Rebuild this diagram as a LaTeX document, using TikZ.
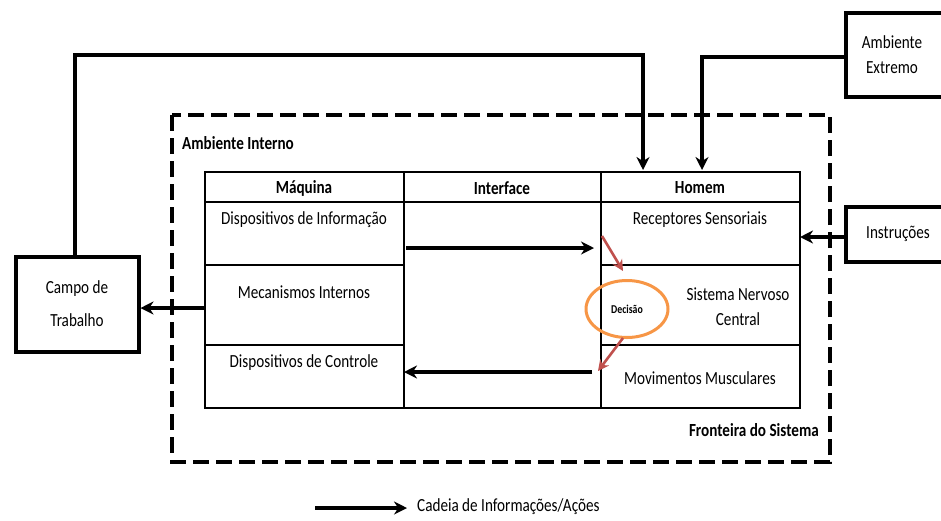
\documentclass[tikz,border=0pt]{standalone}
\usepackage{fontspec}
\setmainfont{Carlito}[FakeStretch=0.82]
\usetikzlibrary{arrows.meta,shapes.geometric}
\begin{document}
\begin{tikzpicture}[x=1pt,y=-1pt,
  txt/.style={font=\fontsize{18.5}{20}\selectfont, align=center, inner sep=0pt},
  btxt/.style={txt, font=\fontsize{18.5}{20}\selectfont\bfseries},
  flow/.style={line width=3.2pt, -{Stealth[length=13pt,width=13pt]}},
  thin/.style={line width=1.4pt},
  extbox/.style={draw, line width=4pt, fill=white},
  redarrow/.style={draw={rgb,255:red,192;green,80;blue,77}, line width=2.6pt, -{Stealth[length=11pt,width=11pt]}}
]
\clip (0,0) rectangle (941,520);
\fill[white] (0,0) rectangle (941,520);
% dashed boundary
\draw[line width=4pt, dash pattern=on 16pt off 7pt] (172,115) rectangle (830,462);
\node[btxt, anchor=west] (ai) at (182,143) {Ambiente Interno};
\node[btxt, anchor=east] (fs) at (819,430) {Fronteira do Sistema};
% table
\coordinate (tnw) at (205,172);
\coordinate (tse) at (800,408);
\draw[thin] (tnw) rectangle (tse);
\draw[thin] (205,202) -- (800,202);
\draw[thin] (404,172) -- (404,408);
\draw[thin] (601,172) -- (601,408);
\draw[thin] (205,265) -- (404,265);
\draw[thin] (205,345) -- (404,345);
\draw[thin] (601,265) -- (800,265);
\draw[thin] (601,345) -- (800,345);
\node[btxt] (maq) at (304,188) {Máquina};
\node[btxt] (int) at (502,188) {Interface};
\node[btxt] (hom) at (700,188) {Homem};
\node[txt] (di) at (304,220) {Dispositivos de Informação};
\node[txt] (mi) at (304,292) {Mecanismos Internos};
\node[txt] (dc) at (304,363) {Dispositivos de Controle};
\node[txt] (rs) at (700,220) {Receptores Sensoriais};
\node[txt] (snc) at (738,307) {Sistema Nervoso\\[5pt]Central};
\node[txt] (mm) at (700,378) {Movimentos Musculares};
% decision ellipse
\node[ellipse, draw={rgb,255:red,247;green,150;blue,70}, line width=3pt, minimum width=82pt, minimum height=57pt, inner sep=0pt, font=\fontsize{12}{14}\selectfont\bfseries] (dec) at (627,309) {Decisão};
% interface arrows
\coordinate (ia1) at (406,248);
\coordinate (ib1) at (594,248);
\coordinate (ia2) at (592,372);
\coordinate (ib2) at (404,372);
\draw[flow] (ia1) -- (ib1);
\draw[flow] (ia2) -- (ib2);
% red arrows
\coordinate (r1a) at (602,236);
\coordinate (r1b) at (623,271);
\coordinate (r2a) at (623,338);
\coordinate (r2b) at (598,371);
\draw[redarrow] (r1a) -- (r1b);
\draw[redarrow] (r2a) -- (r2b);
% external boxes
\node[extbox, minimum width=123pt, minimum height=95pt] (ct) at (77,304) {};
\node[txt] at (ct) {Campo de\\[13pt]Trabalho};
\node[extbox, minimum width=100pt, minimum height=84pt] (ae) at (896,55) {};
\node[txt] at (892,55) {Ambiente\\[5pt]Extremo};
\node[extbox, minimum width=100pt, minimum height=55pt] (ins) at (896,234) {};
\node[txt] at (898,234) {Instruções};
% connectors
\coordinate (tl) at (205,308);
\draw[flow] (tl) -- (ct.east |- tl);
\coordinate (h1) at (643,170);
\draw[flow] (ct.north -| 75,0) -- (75,55) -- (643,55) -- (h1);
\coordinate (h2) at (702,170);
\draw[flow] (ae.west |- 0,57) -- (702,57) -- (h2);
\coordinate (tr) at (800,237);
\draw[flow] (ins.west |- tr) -- (tr);
% legend
\coordinate (la) at (315,508);
\coordinate (lb) at (407,508);
\draw[flow] (la) -- (lb);
\node[txt, anchor=west] (lt) at (417,507) {Cadeia de Informações/Ações};
\end{tikzpicture}
\end{document}
